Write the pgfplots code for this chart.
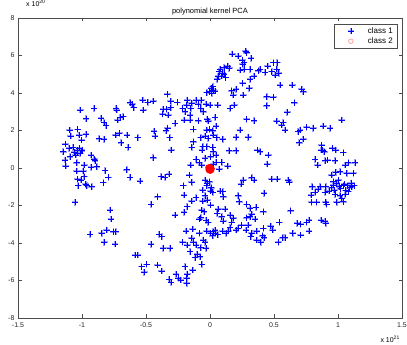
\documentclass[border=0pt]{standalone}
\usepackage{pgfplots}
\pgfplotsset{compat=1.18}
\usepackage{pgfplotstable}
\usepackage{fontspec}
\setmainfont{Liberation Sans}
\definecolor{mblue}{rgb}{0,0,1}
\definecolor{hblue}{rgb}{0.62,0.62,1}
\definecolor{mred}{rgb}{1,0,0}

\pgfplotstableread{
x y
-0.333 3.93
-0.307 3.57
-0.255 3.50
-0.526 3.63
-0.487 3.50
-0.443 3.57
-0.625 3.48
-0.607 3.41
-0.596 3.22
-0.521 3.09
-0.734 3.18
-0.729 3.09
-0.721 2.56
-0.677 2.74
-0.703 2.70
-0.906 3.18
-1.013 3.09
-0.969 2.63
-0.852 2.65
-0.828 2.42
-0.813 2.26
-0.365 3.13
-0.339 3.13
-0.307 3.22
-0.370 2.88
-0.326 2.83
-0.273 2.38
-0.331 2.12
-0.344 1.99
-0.438 1.97
-0.430 1.71
-0.315 1.62
-0.302 0.96
-0.443 0.55
-1.096 2.03
-1.034 2.06
-1.088 1.71
-1.021 1.76
-0.969 1.80
-1.003 1.49
-0.867 1.56
-0.828 1.53
-0.737 1.76
-0.708 1.85
-0.648 1.76
-0.565 1.62
-0.695 1.35
-0.641 1.10
-1.130 1.28
-1.146 0.87
-1.102 1.05
-1.068 1.10
-1.034 0.96
-1.003 0.92
-1.049 0.69
-1.013 0.78
-1.094 0.60
-1.133 0.43
-0.930 0.69
-0.904 0.48
-0.898 0.39
-1.041 0.28
-1.127 0.11
-0.982 0.16
-0.930 0.04
-0.885 0.07
-1.06 0.85
-1.04 0.80
-1.02 1.05
-1.00 0.95
-1.05 0.70
0.279 6.24
0.286 6.15
0.174 6.08
0.221 5.97
0.320 5.85
0.253 5.76
0.266 5.62
0.255 5.53
0.313 5.26
0.268 5.26
0.234 5.23
0.138 5.44
0.112 5.35
0.078 5.26
0.070 5.14
0.099 5.05
0.151 5.32
0.091 4.91
0.057 4.73
0.122 4.82
0.109 5.00
0.065 4.91
0.021 4.34
0.008 4.25
-0.005 4.07
-0.026 4.02
0.026 4.16
0.039 4.11
0.013 3.98
0.255 4.52
0.307 4.25
0.313 4.73
0.344 4.91
0.203 4.20
0.169 4.12
0.182 3.89
0.260 3.89
0.378 5.19
0.391 5.26
0.451 5.44
0.430 5.10
0.482 5.14
0.495 5.62
0.526 5.62
0.521 5.26
0.537 5.05
0.508 4.96
0.547 4.43
0.643 4.43
0.716 4.20
0.729 4.07
0.659 3.48
0.443 3.80
0.495 3.77
0.443 3.32
0.604 2.97
0.521 2.51
0.573 2.42
0.586 2.03
0.560 2.29
0.703 2.03
0.690 1.94
0.729 1.55
0.698 1.35
0.286 2.60
0.344 2.52
0.234 2.03
0.299 1.64
0.203 1.64
0.151 0.92
0.203 0.92
0.370 0.96
0.391 0.87
0.456 0.69
0.448 0.21
-0.177 3.63
-0.182 3.36
-0.143 3.45
-0.214 3.18
-0.195 3.00
-0.109 3.63
-0.068 3.63
-0.091 3.40
-0.031 3.41
-0.073 3.18
-0.052 3.00
-0.151 3.18
-0.156 2.83
-0.203 2.56
-0.156 2.56
-0.091 2.52
-0.021 2.60
-0.013 2.51
0.039 2.70
0.060 3.36
0.000 3.36
0.156 3.18
0.190 3.36
-0.026 2.03
-0.005 2.06
0.021 1.99
0.047 2.24
-0.130 2.06
0.026 1.76
-0.013 1.58
-0.039 1.71
0.052 1.62
0.099 1.53
-0.073 1.62
-0.130 1.40
-0.143 1.10
-0.057 1.14
-0.026 1.14
0.021 1.10
0.026 0.87
-0.063 0.96
0.047 0.69
0.005 0.60
-0.039 0.52
-0.109 0.46
-0.083 0.28
-0.151 0.16
-0.065 0.16
0.047 0.30
0.091 0.30
0.138 0.11
0.026 0.21
0.755 2.17
0.807 2.12
0.885 2.24
0.938 2.12
1.029 2.56
0.872 1.23
0.880 0.96
0.867 0.96
0.893 0.87
0.956 1.05
0.982 0.96
1.042 0.82
0.820 0.46
0.841 0.16
0.898 0.39
0.919 0.43
0.977 0.39
1.055 0.16
1.081 0.28
1.133 0.28
-1.041 -0.16
-0.990 -0.16
-0.820 -0.14
-0.651 -0.09
-0.625 -0.50
-0.547 -0.69
-0.383 -0.46
-0.352 -0.50
-0.320 -0.32
-1.034 -0.59
-1.008 -0.64
-0.982 -0.46
-1.029 -0.94
-0.971 -0.87
-0.963 -0.94
-0.924 -1.00
-0.833 -0.78
-0.794 -0.50
-1.055 -1.83
-0.409 -1.53
-0.461 -1.94
-0.781 -2.24
-0.773 -2.72
-0.273 -2.51
-0.807 -3.31
-0.846 -3.48
-0.755 -3.40
-0.737 -3.40
-0.938 -3.54
-0.826 -3.96
-0.742 -4.05
-0.396 -3.54
-0.377 -3.66
-0.461 -4.07
-0.365 -4.28
-0.313 -4.28
-0.586 -4.64
-0.565 -4.64
-0.534 -5.26
-0.495 -5.14
-0.513 -5.56
-0.409 -5.17
-0.377 -5.49
-0.318 -5.94
-0.305 -6.10
-0.266 -5.67
-0.247 -5.88
0.073 -0.05
-0.039 -0.64
-0.005 -0.73
-0.026 -0.94
0.005 -1.23
-0.039 -1.48
0.021 -1.30
-0.057 -1.17
-0.208 -0.94
-0.143 -0.76
-0.161 -0.37
-0.203 -1.44
-0.109 -1.58
-0.143 -1.76
-0.177 -2.06
-0.203 -2.36
-0.057 -1.76
-0.021 -1.71
0.005 -1.97
-0.065 -2.24
-0.047 -2.33
0.065 -2.19
0.117 -2.19
0.057 -2.42
0.091 -2.60
0.104 -2.83
0.156 -2.51
0.182 -2.68
0.169 -2.90
0.078 -1.23
0.104 -1.53
0.099 -1.26
0.221 -1.48
0.229 -1.80
0.260 -0.64
0.326 -0.52
0.344 -0.64
0.242 -0.85
0.422 -1.35
0.482 -0.59
0.526 -0.59
0.612 -0.64
0.620 -0.76
0.286 -1.94
0.313 -2.15
0.359 -2.10
0.417 -2.33
0.286 -2.65
0.326 -2.47
0.352 -2.72
0.313 -2.60
0.630 -2.28
0.542 -2.90
0.682 -2.95
0.708 -3.00
-0.073 -2.65
-0.083 -2.72
-0.013 -2.90
0.156 -3.18
0.221 -3.22
0.247 -3.04
0.299 -3.04
0.281 -3.31
0.326 -3.48
0.365 -3.36
0.417 -3.22
0.474 -3.09
0.490 -3.31
0.411 -3.61
0.422 -3.72
0.365 -3.84
0.396 -3.96
0.318 -3.66
0.203 -3.31
0.143 -3.36
0.125 -3.48
0.099 -3.36
0.026 -3.40
0.005 -3.48
0.021 -3.61
0.039 -3.48
-0.026 -3.36
-0.083 -3.48
-0.135 -3.25
-0.188 -3.36
-0.143 -3.75
-0.130 -3.96
-0.214 -3.96
-0.177 -4.11
-0.052 -3.84
-0.039 -3.96
-0.073 -4.25
-0.109 -4.11
-0.031 -4.28
-0.156 -4.46
-0.099 -4.60
-0.078 -4.73
-0.117 -4.78
-0.065 -5.14
-0.195 -5.26
-0.135 -5.44
-0.177 -5.67
-0.182 -5.88
-0.229 -5.97
-0.182 -6.15
0.646 -3.48
0.708 -3.57
0.534 -3.96
0.568 -3.72
0.586 -3.72
-0.020 -0.80
0.010 -1.05
-0.030 -2.80
0.060 -3.55
0.040 -3.30
0.951 -0.37
0.982 -0.23
1.016 -0.20
1.068 -0.28
1.120 -0.28
1.003 -0.64
0.964 -0.73
0.799 -1.00
0.859 -1.00
0.904 -1.00
0.846 -1.12
0.820 -1.30
0.789 -1.44
0.898 -1.30
0.930 -1.23
0.971 -1.17
1.008 -1.00
1.042 -0.94
1.076 -0.94
1.107 -1.00
1.128 -0.94
0.977 -1.41
1.016 -1.48
1.055 -1.41
1.081 -1.26
1.029 -1.62
1.042 -1.80
0.990 -1.83
0.794 -1.83
0.833 -1.83
0.904 -1.83
0.911 -1.94
0.755 -2.90
0.773 -2.77
0.867 -2.77
0.898 -2.83
0.904 -2.95
0.773 -3.36
1.05 -0.85
1.02 -1.10
0.95 -1.05
1.09 -1.05
1.06 -1.20
0.99 -0.80
1.10 -0.80
0.96 -0.90
}\classone

\pgfplotstableread{
x y
-0.004 -0.05
0.004 0.00
-0.010 -0.10
0.008 -0.12
-0.012 0.02
0.012 -0.04
0.000 -0.14
0.000 0.04
-0.006 -0.02
0.006 -0.08
}\classtwo

\begin{document}
\begin{tikzpicture}
\useasboundingbox (-18pt,-27pt) rectangle (389pt,318pt);
\begin{axis}[
  name=ax,
  at={(0pt,0pt)}, anchor=south west,
  scale only axis, width=384pt, height=300pt,
  xmin=-1.5, xmax=1.5, ymin=-8, ymax=8,
  xtick={-1.5,-1,-0.5,0,0.5,1,1.5},
  ytick={-8,-6,-4,-2,0,2,4,6,8},
  scaled ticks=false,
  tick align=inside,
  major tick length=3.5pt,
  axis line style={black!70, line width=0.5pt},
  tick style={black!70, line width=0.5pt},
  ticklabel style={font=\fontsize{7}{8}\selectfont, text=black!85},
  xticklabel style={yshift=-1pt},
  /pgf/number format/assume math mode=true,
  title={polynomial kernel PCA},
  every axis title/.style={at={(0.5,1)}, anchor=base, yshift=4.5pt, font=\fontsize{7.5}{8}\selectfont},
  legend style={at={(0.987,0.98)}, anchor=north east,
    font=\fontsize{8}{9}\selectfont, draw=black!70, line width=0.5pt,
    inner xsep=2pt, inner ysep=1pt, row sep=-1pt},
  legend cell align=left,
  clip=true,
]
\addplot[only marks, mark=+, mark size=3.3pt, color=hblue,
  mark options={draw=hblue, line width=1.7pt}, forget plot] table {\classone};
\addplot[only marks, mark=+, mark size=3pt, color=mblue,
  mark options={draw=mblue, line width=0.6pt}, forget plot] table {\classone};
\addplot[only marks, mark=*, mark size=3pt, color=mred,
  mark options={draw=mred, fill=mred}, forget plot] table {\classtwo};
\addlegendimage{draw=none, legend image code/.code={\path[draw=none] (0pt,0pt) -- (30pt,0pt); \draw[hblue, line width=1.6pt] (11.8pt,0pt) -- (18.2pt,0pt) (15pt,-3.2pt) -- (15pt,3.2pt); \draw[mblue, line width=0.6pt] (12pt,0pt) -- (18pt,0pt) (15pt,-3pt) -- (15pt,3pt);}}
\addlegendentry{class 1}
\addlegendimage{draw=none, legend image code/.code={\path[draw=none] (0pt,0pt) -- (30pt,0pt); \draw[red!55, line width=0.5pt] (15pt,0pt) circle[radius=2.3pt];}}
\addlegendentry{class 2}
\end{axis}
\node[anchor=base west, font=\fontsize{7}{8}\selectfont, inner sep=0pt, xshift=8pt, yshift=11pt] at (ax.north west) {x 10\textsuperscript{20}};
\node[anchor=base east, font=\fontsize{7}{8}\selectfont, inner sep=0pt, xshift=-2pt, yshift=-25pt] at (ax.south east) {x 10\textsuperscript{21}};
\end{tikzpicture}
\end{document}
